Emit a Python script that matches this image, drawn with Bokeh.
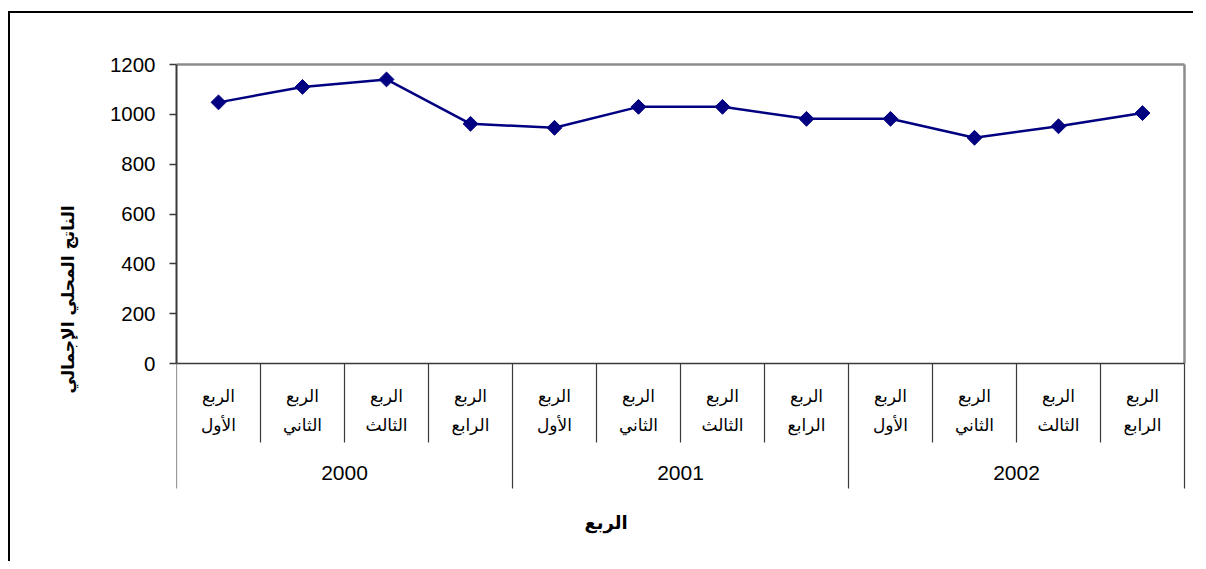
import numpy as np
from bokeh.plotting import figure
from bokeh.models import Range1d, FixedTicker, ColumnDataSource, Title
from bokeh.core.properties import value
from bokeh.embed import file_html
from bokeh.resources import INLINE

# ---------------- data ----------------
years = ["2000", "2001", "2002"]
quarter_word = "الربع"
quarters = ["الأول", "الثاني", "الثالث", "الرابع"]
gdp = [1048, 1110, 1140, 962, 946, 1030, 1030, 982, 982, 906, 952, 1005]
y_ticks = [0, 200, 400, 600, 800, 1000, 1200]
y_title = "الناتج المحلي الإجمالي"
x_title = "الربع"

# ---------------- geometry (page pixels) ----------------
CANVAS_X, CANVAS_Y = 11, 14           # canvas origin on the page (after border)
W, H = 1185, 550
FRAME_L, FRAME_R, FRAME_T, FRAME_B = 177, 1190, 58, 500
ZERO_PX, TOP_PX = 364, 65              # pixel rows of y=0 and y=max tick
PLOT_R = 1185                          # right edge of the plot area

n = len(gdp)
ymax = y_ticks[-1]
S = (ZERO_PX - TOP_PX) / ymax          # px per unit
CAT_W = (PLOT_R - FRAME_L) / n         # px per category


def py(page_y):
    return (ZERO_PX - page_y) / S


x_range = Range1d(0, n + (FRAME_R - PLOT_R) / CAT_W)
y_range = Range1d(py(FRAME_B), py(FRAME_T))

p = figure(width=W, height=H, x_range=x_range, y_range=y_range,
           output_backend="svg", toolbar_location=None, title=None,
           x_axis_location=None,
           min_border_left=FRAME_L - CANVAS_X,
           min_border_right=(CANVAS_X + W) - FRAME_R,
           min_border_top=FRAME_T - CANVAS_Y,
           min_border_bottom=(CANVAS_Y + H) - FRAME_B)
p.styles = {"border-top": "2px solid black", "border-left": "2px solid black",
            "margin-top": "11px", "margin-left": "8px"}
p.outline_line_color = None
p.grid.visible = False
p.background_fill_color = "white"
p.border_fill_color = "white"

# y axis
ya = p.yaxis[0]
ya.ticker = FixedTicker(ticks=y_ticks)
ya.bounds = (0, ymax)
ya.minor_tick_line_color = None
ya.major_tick_in = 0
ya.major_tick_out = 7
ya.major_tick_line_color = "#3a3a3a"
ya.major_tick_line_width = 1.5
ya.axis_line_color = "#3a3a3a"
ya.axis_line_width = 2
ya.major_label_text_font = "Liberation Sans"
ya.major_label_text_font_size = "20.5px"
ya.major_label_text_color = "black"
ya.major_label_standoff = 14

# plot area border (top / right in grey, bottom as axis line)
p.segment(x0=[0], y0=[ymax], x1=[n], y1=[ymax], line_color="#8c8c8c", line_width=2.5)
p.segment(x0=[n], y0=[0], x1=[n], y1=[ymax], line_color="#8c8c8c", line_width=2.5)
p.segment(x0=[0], y0=[0], x1=[n], y1=[0], line_color="#3a3a3a", line_width=1.5)

# category separators
bounds = list(range(n + 1))
sep_bottom = [py(489) if b % len(quarters) == 0 else py(443) for b in bounds]
p.segment(x0=bounds, y0=[0] * len(bounds), x1=bounds, y1=sep_bottom,
          line_color="#3a3a3a", line_width=1.2)

# quarter labels
centers = [i + 0.5 for i in range(n)]
qlabels = [quarter_word + "\n" + quarters[i % len(quarters)] for i in range(n)]
p.text(x=centers, y=[py(411)] * n, text=qlabels,
       text_align="center", text_baseline="middle",
       text_font=value("DejaVu Sans"), text_font_size="17px",
       text_line_height=1.45, text_color="black")

# year labels
ycent = [len(quarters) * (k + 0.5) for k in range(len(years))]
p.text(x=ycent, y=[py(473)] * len(years), text=years,
       text_align="center", text_baseline="middle",
       text_font=value("Liberation Sans"), text_font_size="21px",
       text_color="black")

# data line
src = ColumnDataSource(dict(x=centers, y=gdp))
p.line("x", "y", source=src, line_color="#000080", line_width=2.5)
p.scatter("x", "y", source=src, marker="square", angle=np.pi / 4, size=10.5,
          fill_color="#000080", line_color="#000080")

# axis titles
xt = Title(text=x_title, align="left", offset=408, standoff=21,
           text_font="DejaVu Sans", text_font_size="18px", text_font_style="bold",
           text_color="black")
p.add_layout(xt, "below")
yt = Title(text=y_title, align="left", offset=106, standoff=57,
           text_font="DejaVu Sans", text_font_size="17px", text_font_style="bold",
           text_color="black")
p.add_layout(yt, "left")

open("out.html", "w").write(file_html(p, INLINE))
